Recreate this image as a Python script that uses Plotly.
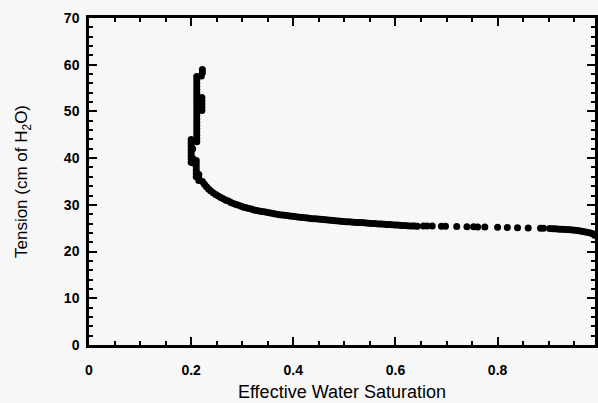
import plotly.graph_objects as go

# Effective water saturation (-) and tension head (cm of H2O)
saturation_upper = [0.222, 0.222, 0.220,
                    0.211, 0.211, 0.211, 0.211, 0.211, 0.211, 0.211, 0.211, 0.211, 0.211, 0.211,
                    0.211, 0.211, 0.211, 0.211, 0.211, 0.211, 0.211, 0.211, 0.211, 0.211,
                    0.221, 0.221, 0.221, 0.221, 0.221,
                    0.200, 0.200, 0.200, 0.200, 0.200, 0.200, 0.200, 0.200, 0.203, 0.203, 0.203,
                    0.210, 0.210, 0.210, 0.210, 0.210, 0.210,
                    0.215, 0.215, 0.215]
tension_upper = [59.0, 58.3, 57.6,
                 57.5, 56.8, 56.1, 55.4, 54.7, 54.0, 53.3, 52.6, 51.9, 51.2, 50.5,
                 49.8, 49.1, 48.4, 47.7, 47.0, 46.3, 45.6, 44.9, 44.2, 43.5,
                 53.0, 52.3, 51.6, 50.9, 50.2,
                 44.0, 43.3, 42.6, 41.9, 41.2, 40.5, 39.8, 39.1, 42.0, 40.0, 39.0,
                 39.5, 38.8, 38.1, 37.4, 36.7, 36.0,
                 36.5, 35.8, 35.2]

saturation_curve = [0.222, 0.226, 0.230, 0.234, 0.238, 0.243, 0.248, 0.253, 0.258, 0.263,
                    0.268, 0.273, 0.278, 0.283, 0.288, 0.293, 0.298, 0.303, 0.308, 0.313,
                    0.318, 0.323, 0.328, 0.333, 0.338, 0.343, 0.348, 0.353, 0.358, 0.363,
                    0.368, 0.373, 0.378, 0.383, 0.388, 0.393, 0.398, 0.403, 0.408, 0.413,
                    0.418, 0.423, 0.428, 0.433, 0.438, 0.443, 0.448, 0.453, 0.458, 0.463,
                    0.468, 0.473, 0.478, 0.483, 0.488, 0.493, 0.498, 0.503, 0.508, 0.513,
                    0.518, 0.523, 0.528, 0.533, 0.538, 0.543, 0.548, 0.553, 0.558, 0.563,
                    0.568, 0.573, 0.578, 0.583, 0.588, 0.593, 0.598, 0.603, 0.608, 0.613,
                    0.618, 0.623, 0.628, 0.633, 0.638, 0.643]
tension_curve = [35.0, 34.4, 33.9, 33.4, 33.0, 32.6, 32.2, 31.9, 31.6, 31.3,
                 31.0, 30.8, 30.5, 30.3, 30.1, 29.9, 29.7, 29.5, 29.4, 29.2,
                 29.1, 28.9, 28.8, 28.7, 28.6, 28.5, 28.4, 28.3, 28.2, 28.1,
                 28.0, 27.9, 27.85, 27.8, 27.7, 27.6, 27.55, 27.5, 27.4, 27.35,
                 27.3, 27.25, 27.2, 27.1, 27.05, 27.0, 26.95, 26.9, 26.85, 26.8,
                 26.75, 26.7, 26.65, 26.6, 26.55, 26.5, 26.45, 26.4, 26.4, 26.35,
                 26.3, 26.25, 26.2, 26.2, 26.15, 26.1, 26.05, 26.0, 26.0, 25.95,
                 25.9, 25.9, 25.85, 25.8, 25.8, 25.75, 25.7, 25.7, 25.65, 25.6,
                 25.6, 25.55, 25.5, 25.45, 25.45, 25.4]

saturation_tail = [0.655, 0.662, 0.672, 0.690, 0.698, 0.720, 0.740, 0.753, 0.761, 0.775,
                   0.800, 0.819, 0.839, 0.860, 0.884, 0.890,
                   0.902, 0.907, 0.912, 0.917, 0.922, 0.927, 0.932, 0.937, 0.942, 0.947,
                   0.952, 0.957, 0.962, 0.967, 0.972, 0.977, 0.982, 0.986, 0.990]
tension_tail = [25.5, 25.5, 25.45, 25.4, 25.4, 25.35, 25.3, 25.3, 25.25, 25.25,
                25.2, 25.15, 25.1, 25.05, 25.0, 25.0,
                24.95, 24.9, 24.9, 24.85, 24.8, 24.8, 24.75, 24.7, 24.65, 24.6,
                24.55, 24.5, 24.4, 24.3, 24.2, 24.1, 24.0, 23.8, 23.5]

x_ticks = [0, 0.2, 0.4, 0.6, 0.8]
x_labels = ["0", "0.2", "0.4", "0.6", "0.8"]
y_ticks = [0, 10, 20, 30, 40, 50, 60, 70]

x_all = saturation_upper + saturation_curve + saturation_tail
y_all = tension_upper + tension_curve + tension_tail

fig = go.Figure(go.Scatter(
    x=x_all, y=y_all, mode="markers",
    marker=dict(color="black", size=7, line=dict(width=0)),
    showlegend=False,
))

bg = "#f7f7f7"
font_family = "Liberation Sans, Arial, sans-serif"
tick_font = dict(family=font_family, size=14, color="black", weight="bold")
axis_common = dict(
    showline=True, linecolor="black", linewidth=2.5, mirror="allticks",
    ticks="inside", ticklen=8, tickwidth=2, tickcolor="black",
    showgrid=False, zeroline=False, tickfont=tick_font,
)

fig.update_xaxes(
    range=[0, 0.9907], tickvals=x_ticks, ticktext=x_labels,
    minor=dict(dtick=0.05, ticks="inside", ticklen=4, tickwidth=2, tickcolor="black"),
    ticklabelstandoff=10,
    title=dict(text="Effective Water Saturation",
               font=dict(family=font_family, size=18, color="black"), standoff=9),
    **axis_common,
)
fig.update_yaxes(
    range=[0, 70], tickvals=y_ticks,
    minor=dict(dtick=2, ticks="inside", ticklen=4, tickwidth=2, tickcolor="black"),
    ticklabelstandoff=4,
    title=dict(text="Tension (cm of H<sub>2</sub>O)",
               font=dict(family=font_family, size=17, color="black"), standoff=32),
    **axis_common,
)

fig.update_layout(
    width=598, height=403,
    margin=dict(l=89, r=0, t=18, b=58),
    paper_bgcolor=bg, plot_bgcolor=bg,
)

fig.write_html("out.html")
